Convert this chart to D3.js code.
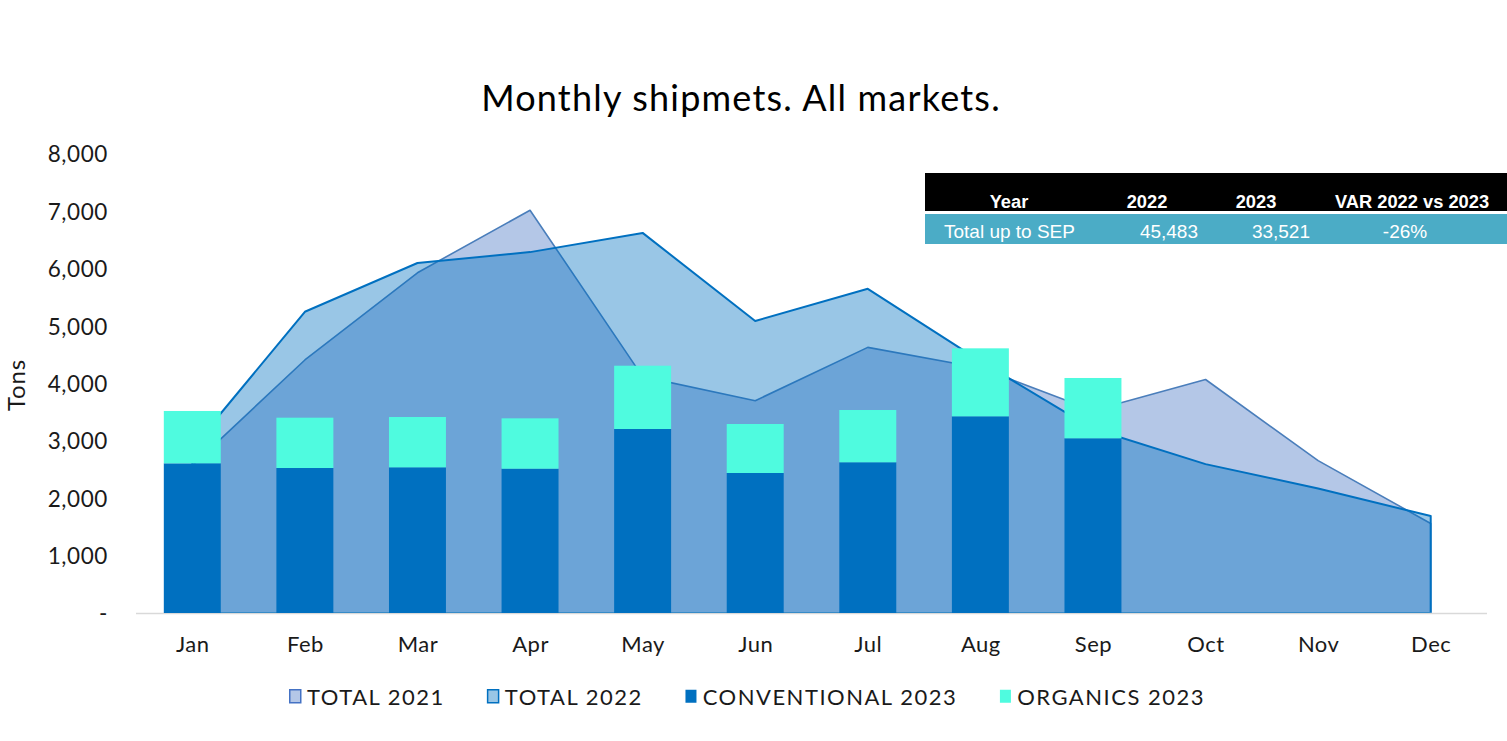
<!DOCTYPE html>
<html>
<head>
<meta charset="utf-8">
<script src="https://cdn.jsdelivr.net/npm/d3@7"></script>
<style>
  body { margin: 0; background: #fff; }
  svg { display: block; font-family: Lato, "Noto Sans", sans-serif; }
</style>
</head>
<body>
<svg id="chart" width="1507" height="741"></svg>
<script>
// chart data
const months = ["Jan", "Feb", "Mar", "Apr", "May", "Jun", "Jul", "Aug", "Sep", "Oct", "Nov", "Dec"];
const total2021 = [2570, 4410, 5930, 7020, 4120, 3700, 4630, 4270, 3530, 4070, 2655, 1560];
const total2022 = [2880, 5250, 6100, 6290, 6625, 5090, 5650, 4390, 3210, 2595, 2170, 1690];
const conventional2023 = [2609, 2527, 2539, 2515, 3207, 2440, 2627, 3428, 3045];
const organics2023 = [912, 877, 877, 878, 1103, 854, 911, 1185, 1051];
const yTicks = [0, 1000, 2000, 3000, 4000, 5000, 6000, 7000, 8000];

const tableHead = ["Year", "2022", "2023", "VAR 2022 vs 2023"];
const tableRow = ["Total up to SEP", "45,483", "33,521", "-26%"];

const legendItems = [
  { name: "TOTAL 2021", fill: "rgba(68,114,196,0.4)", stroke: "#4472c4" },
  { name: "TOTAL 2022", fill: "rgba(0,112,192,0.4)", stroke: "#0070c0" },
  { name: "CONVENTIONAL 2023", fill: "#0070c0", stroke: "none" },
  { name: "ORGANICS 2023", fill: "#4ffbdf", stroke: "none" }
];

const svg = d3.select("#chart");

// plot area
const plotL = 136, plotR = 1487, plotT = 154, plotB = 613;

const x = d3.scalePoint().domain(months).range([plotL, plotR]).padding(0.5);
const y = d3.scaleLinear().domain([0, 8000]).range([plotB, plotT]);
const barW = x.step() * 0.506;

// title
svg.append("text")
  .attr("x", 741).attr("y", 111)
  .attr("text-anchor", "middle")
  .style("font-size", "36px")
  .style("letter-spacing", "1.2px")
  .style("fill", "#000")
  .text("Monthly shipmets. All markets.");

// areas (2021 under, 2022 on top, both semi transparent)
const area = d3.area()
  .x((d, i) => x(months[i]))
  .y0(y(0))
  .y1(d => y(d));

svg.append("path")
  .attr("d", area(total2021))
  .attr("fill", "rgba(68,114,196,0.4)")
  .attr("stroke", "#4a7ebb")
  .attr("stroke-width", 1.6)
  .attr("stroke-linejoin", "round");

svg.append("path")
  .attr("d", area(total2022))
  .attr("fill", "rgba(0,112,192,0.4)")
  .attr("stroke", "#0070c0")
  .attr("stroke-width", 2)
  .attr("stroke-linejoin", "round");

// x axis line
svg.append("line")
  .attr("x1", plotL).attr("x2", plotR)
  .attr("y1", plotB + 0.5).attr("y2", plotB + 0.5)
  .attr("stroke", "#d9d9d9")
  .attr("stroke-width", 1.5);

// stacked bars
const bars = svg.append("g");
bars.selectAll(".conv")
  .data(conventional2023)
  .enter().append("rect")
  .attr("class", "conv")
  .attr("x", (d, i) => x(months[i]) - barW / 2)
  .attr("width", barW)
  .attr("y", d => y(d))
  .attr("height", d => y(0) - y(d))
  .attr("fill", "#0070c0");

bars.selectAll(".org")
  .data(organics2023)
  .enter().append("rect")
  .attr("class", "org")
  .attr("x", (d, i) => x(months[i]) - barW / 2)
  .attr("width", barW)
  .attr("y", (d, i) => y(conventional2023[i] + d))
  .attr("height", (d, i) => y(conventional2023[i]) - y(conventional2023[i] + d))
  .attr("fill", "#4ffbdf");

// y axis labels
const yAxis = d3.axisLeft(y)
  .tickValues(yTicks)
  .tickSize(0)
  .tickPadding(0)
  .tickFormat(d => d === 0 ? "-" : d3.format(",")(d));

const yg = svg.append("g")
  .attr("transform", "translate(108,0)")
  .call(yAxis);
yg.select(".domain").remove();
yg.selectAll("text")
  .style("font-size", "22.5px")
  .style("letter-spacing", "0.6px")
  .style("font-family", "Lato, sans-serif")
  .style("fill", "#1a1a1a")
  .attr("dy", "0.35em");

// x axis labels
const xAxis = d3.axisBottom(x).tickSize(0).tickPadding(0);
const xg = svg.append("g")
  .attr("transform", "translate(0,652)")
  .call(xAxis);
xg.select(".domain").remove();
xg.selectAll("text")
  .attr("dy", 0)
  .style("font-size", "22px")
  .style("letter-spacing", "0.5px")
  .style("font-family", "Lato, sans-serif")
  .style("fill", "#1a1a1a");

// y axis title
svg.append("text")
  .attr("transform", "translate(25,385) rotate(-90)")
  .attr("text-anchor", "middle")
  .style("font-size", "24px")
  .style("letter-spacing", "0.8px")
  .style("fill", "#1a1a1a")
  .text("Tons");

// summary table
const tbl = svg.append("g").style("font-family", "'Liberation Sans', Arial, sans-serif");
tbl.append("rect").attr("x", 925).attr("y", 173).attr("width", 582).attr("height", 38).attr("fill", "#000");
tbl.append("rect").attr("x", 925).attr("y", 214).attr("width", 582).attr("height", 30).attr("fill", "#4bacc6");

const headX = [1009, 1147, 1256, 1412];
tbl.selectAll(".th")
  .data(tableHead)
  .enter().append("text")
  .attr("x", (d, i) => headX[i])
  .attr("y", 208)
  .attr("text-anchor", "middle")
  .style("font-weight", "bold")
  .style("font-size", "18.3px")
  .style("fill", "#fff")
  .text(d => d);

const rowX = [944, 1198, 1310, 1405];
const rowAnchor = ["start", "end", "end", "middle"];
tbl.selectAll(".td")
  .data(tableRow)
  .enter().append("text")
  .attr("x", (d, i) => rowX[i])
  .attr("y", 238)
  .attr("text-anchor", (d, i) => rowAnchor[i])
  .style("font-size", "19px")
  .style("fill", "#fff")
  .text(d => d);

// legend
const lg = svg.append("g").attr("transform", "translate(0,697)");
let lx = 289;
legendItems.forEach(item => {
  lg.append("rect")
    .attr("x", lx + 0.75).attr("y", -7.25)
    .attr("width", 11).attr("height", 13)
    .attr("fill", item.fill)
    .attr("stroke", item.stroke)
    .attr("stroke-width", item.stroke === "none" ? 0 : 1.5);
  const t = lg.append("text")
    .attr("x", lx + 18)
    .attr("y", 8)
    .style("font-size", "22px")
    .style("letter-spacing", "1.5px")
    .style("fill", "#1a1a1a")
    .text(item.name);
  lx += 18 + t.node().getComputedTextLength() + 42;
});
</script>
</body>
</html>
